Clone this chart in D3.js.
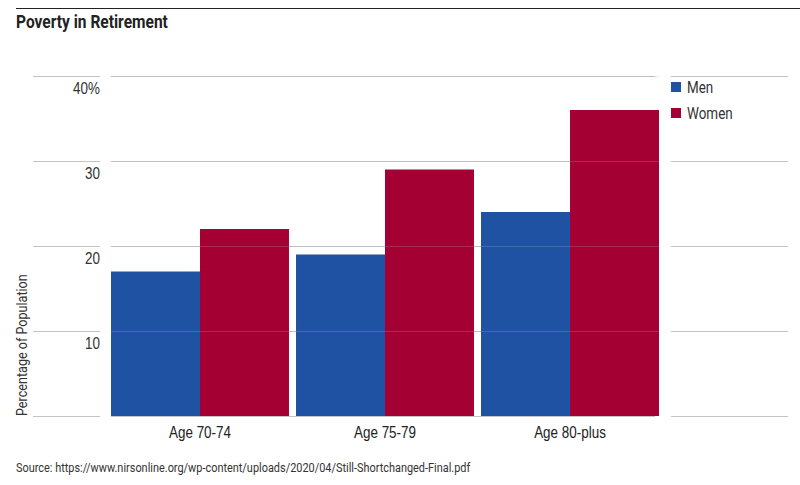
<!DOCTYPE html>
<html>
<head>
<meta charset="utf-8">
<script src="https://cdn.jsdelivr.net/npm/d3@7"></script>
<style>
  body { margin: 0; background: #fff; }
  svg { font-family: "Roboto", "Liberation Sans", sans-serif; }
</style>
</head>
<body>
<div id="chart"></div>
<script>
var categories = ["Age 70-74", "Age 75-79", "Age 80-plus"];
var seriesNames = ["Men", "Women"];
var menValues = [17, 19, 24];
var womenValues = [22, 29, 36];
var yTicks = [10, 20, 30, 40];
var tickLabels = ["10", "20", "30", "40%"];
var colors = ["#1f52a3", "#a50034"];

var width = 800, height = 485;
var plot = {left: 111, right: 659, top: 76, bottom: 416};
var squeeze = 0.84; // no condensed font installed, so narrow the text by hand

var svg = d3.select("#chart").append("svg")
  .attr("width", width)
  .attr("height", height);

// put a text at x,y and squeeze it horizontally
var narrowText = function(sel, x, y, extra) {
  return sel.attr("transform", "translate(" + x + "," + y + ")" + (extra || "") + " scale(" + squeeze + ",1)");
};

// top rule + title
svg.append("line")
  .attr("x1", 16).attr("x2", 800)
  .attr("y1", 8.5).attr("y2", 8.5)
  .attr("stroke", "#222").attr("stroke-width", 1);

narrowText(svg.append("text"), 16, 28)
  .attr("font-size", 18.5).attr("font-weight", "bold")
  .attr("fill", "#222")
  .text("Poverty in Retirement");

var yScale = d3.scaleLinear()
  .domain([0, 40])
  .range([plot.bottom, plot.top]);

var xScale = d3.scaleBand()
  .domain(categories)
  .range([plot.left, plot.right])
  .paddingInner(0.038);

var xInner = d3.scaleBand()
  .domain(seriesNames)
  .range([0, xScale.bandwidth()]);

var data = categories.map(function(c, i) {
  return {cat: c, values: [menValues[i], womenValues[i]]};
});

var gridTicks = [0].concat(yTicks);
var gridY = function(d) { return Math.round(yScale(d)) + 0.5; };

// gridlines (left stub, plot, legend area)
var segs = [[33, 100], [plot.left, 655], [671, 788]];
segs.forEach(function(s) {
  svg.append("g").selectAll("line")
    .data(gridTicks)
    .enter().append("line")
    .attr("x1", s[0]).attr("x2", s[1])
    .attr("y1", gridY).attr("y2", gridY)
    .attr("stroke", "#c4c4c4")
    .attr("stroke-width", 1);
});

// bars
var groups = svg.selectAll("g.group")
  .data(data)
  .enter().append("g")
  .attr("class", "group")
  .attr("transform", function(d) { return "translate(" + xScale(d.cat) + ",0)"; });

groups.selectAll("rect")
  .data(function(d) { return d.values.map(function(v, j) { return {name: seriesNames[j], v: v, j: j}; }); })
  .enter().append("rect")
  .attr("x", function(d) { return xInner(d.name); })
  .attr("y", function(d) { return yScale(d.v); })
  .attr("width", xInner.bandwidth())
  .attr("height", function(d) { return yScale(0) - yScale(d.v); })
  .style("fill", function(d) { return colors[d.j]; });

// faint gridlines showing through the bars
svg.append("g").selectAll("line")
  .data(yTicks)
  .enter().append("line")
  .attr("x1", plot.left).attr("x2", plot.right)
  .attr("y1", gridY).attr("y2", gridY)
  .attr("stroke", "#aaa")
  .attr("stroke-opacity", 0.25);

// y tick labels sit under their gridlines
var yAxis = d3.axisLeft(yScale)
  .tickValues(yTicks)
  .tickSize(0)
  .tickFormat(function(d, i) { return tickLabels[i]; });

var yAxisGroup = svg.append("g")
  .attr("transform", "translate(100,0)")
  .call(yAxis);
yAxisGroup.select(".domain").remove();
yAxisGroup.selectAll("text")
  .attr("x", 0)
  .attr("dy", "1.1em")
  .attr("transform", "scale(" + squeeze + ",1)")
  .attr("font-size", 16)
  .attr("font-family", "inherit")
  .attr("fill", "#333");

narrowText(svg.append("text"), 27, plot.bottom, " rotate(-90)")
  .attr("text-anchor", "start")
  .attr("font-size", 15)
  .attr("fill", "#333")
  .text("Percentage of Population");

// x axis labels
var xAxis = d3.axisBottom(xScale).tickSize(0);
var xAxisGroup = svg.append("g")
  .attr("transform", "translate(0," + plot.bottom + ")")
  .call(xAxis);
xAxisGroup.select(".domain").remove();
xAxisGroup.selectAll("text")
  .attr("dy", "1.05em")
  .attr("y", 5)
  .attr("transform", "scale(" + squeeze + ",1)")
  .attr("font-size", 16)
  .attr("font-family", "inherit")
  .attr("fill", "#222");

// legend
var legend = svg.selectAll("g.legend")
  .data(seriesNames)
  .enter().append("g")
  .attr("class", "legend")
  .attr("transform", function(d, i) { return "translate(671," + (82 + i * 26) + ")"; });

legend.append("rect")
  .attr("width", 10).attr("height", 10)
  .style("fill", function(d, i) { return colors[i]; });

legend.each(function() {
  narrowText(d3.select(this).append("text"), 16, 11)
    .attr("font-size", 16)
    .attr("fill", "#333")
    .text(function(d) { return d; });
});

// source
narrowText(svg.append("text"), 16, 472)
  .attr("font-size", 13)
  .attr("fill", "#333")
  .text("Source: https://www.nirsonline.org/wp-content/uploads/2020/04/Still-Shortchanged-Final.pdf");
</script>
</body>
</html>
